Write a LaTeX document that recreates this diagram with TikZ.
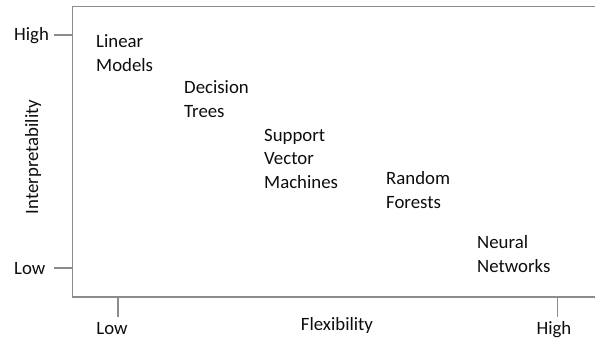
\documentclass[tikz,border=0pt]{standalone}
\usepackage{fontspec}
\setmainfont{Carlito}
\definecolor{axisgray}{gray}{0.55}
\definecolor{ink}{gray}{0.05}

\begin{document}
\begin{tikzpicture}[x=1pt,y=-1pt]
    \tikzstyle{model}=[anchor=base west,align=left,inner sep=0pt,text=ink,font=\fontsize{18.8}{23.2}\selectfont]
    \tikzstyle{lbl}=[inner sep=0pt,text=ink,font=\fontsize{18.8}{20}\selectfont]
    \tikzstyle{axis}=[draw=axisgray,line width=1.2pt]

    \def\fx{72.5}
    \def\ft{6.5}
    \def\fb{297}
    \def\fr{595}

    \useasboundingbox (0,0) rectangle (595,340);

    % frame, open on the right
    \coordinate (tr) at (\fr,\ft);
    \coordinate (tl) at (\fx,\ft);
    \coordinate (bl) at (\fx,\fb);
    \coordinate (br) at (\fr,\fb);
    \draw [axis] (tr) -- (tl) -- (bl) -- (br);

    % tick marks
    \coordinate (yhi) at (\fx,35);
    \coordinate (yhi0) at (54,35);
    \coordinate (ylo) at (\fx,268);
    \coordinate (ylo0) at (54,268);
    \coordinate (xlo) at (118,\fb);
    \coordinate (xlo0) at (118,317);
    \coordinate (xhi) at (557.5,\fb);
    \coordinate (xhi0) at (557.5,317);
    \draw [axis] (yhi0) -- (yhi);
    \draw [axis] (ylo0) -- (ylo);
    \draw [axis] (xlo) -- (xlo0);
    \draw [axis] (xhi) -- (xhi0);

    % axis labels
    \node[lbl,anchor=base west]  (yhil) at (14,40)  {High};
    \node[lbl,anchor=base west]  (ylol) at (14,274) {Low};
    \node[lbl,anchor=base]       (xlol) at (112,334) {Low};
    \node[lbl,anchor=base]       (xhil) at (554,334) {High};
    \node[lbl,anchor=base]       (xname) at (337,330) {Flexibility};
    \node[lbl,anchor=base,rotate=90] (yname) at (38,157) {Interpretability};

    % the models (anchored on the baseline of their last line)
    \node[model]  (lin) at (96,71)   {Linear\\Models};
    \node[model]  (dt)  at (184,117) {Decision\\Trees};
    \node[model]  (svm) at (264,188) {Support\\Vector\\Machines};
    \node[model]  (rf)  at (386,208) {Random\\Forests};
    \node[model]  (nn)  at (477,272) {Neural\\Networks};

\end{tikzpicture}
\end{document}
